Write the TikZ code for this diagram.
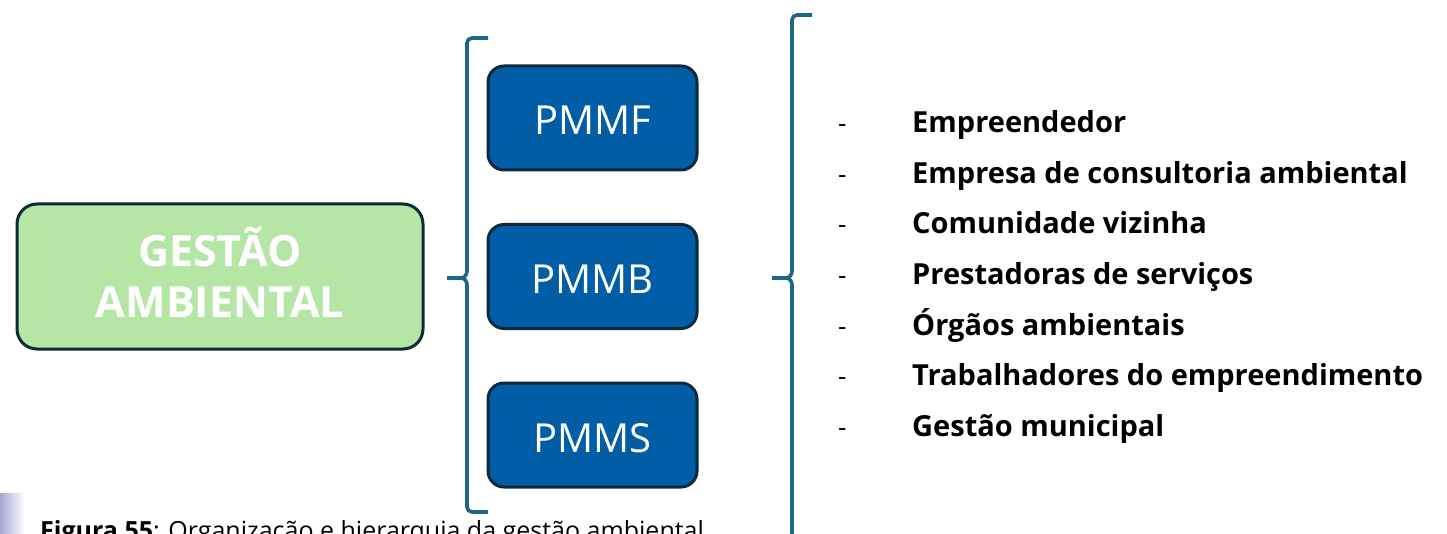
\documentclass[tikz,border=0pt]{standalone}
\usepackage{fontspec}
\setmainfont{Open Sans}
\definecolor{gfill}{HTML}{B5E6A6}
\definecolor{bfill}{HTML}{005DA6}
\definecolor{edgec}{HTML}{0D2A3C}
\definecolor{bracec}{HTML}{1D6688}
\tikzset{
  gbox/.style={draw=edgec, line width=3pt, fill=gfill, rounded corners=20pt, minimum width=406pt, minimum height=145pt, inner sep=0pt},
  bbox/.style={draw=edgec, line width=3pt, fill=bfill, rounded corners=16pt, minimum width=209pt, minimum height=104pt, inner sep=0pt},
  bracestyle/.style={draw=bracec, line width=3.6pt},
  btext/.style={text=white, font=\fontsize{40}{48}\selectfont, anchor=base, inner sep=0pt},
  gtext/.style={text=white, font=\bfseries\fontsize{43}{50}\selectfont, anchor=base, inner sep=0pt},
  itemtext/.style={font=\bfseries\fontsize{29}{34}\selectfont, anchor=base west, inner sep=0pt},
  dashtext/.style={font=\fontsize{26}{30}\selectfont, anchor=base west, inner sep=0pt},
}
\begin{document}
\begin{tikzpicture}[x=1pt,y=-1pt]
\useasboundingbox (0,0) rectangle (1447,534);
\clip (0,0) rectangle (1447,534);
\fill[white] (0,0) rectangle (1447,534);
% small side tab
\shade[left color={rgb,255:red,168;green,168;blue,210}, right color=white] (0,493) rectangle (25,534);
% green box
\node[gbox] (ga) at (220,276.5) {};
\node[gtext] (g1) at (220,267) {GESTÃO};
\node[gtext] (g2) at (220,318) {AMBIENTAL};
% left brace
\coordinate (lbt) at (488,38);
\coordinate (lbb) at (488,512);
\coordinate (lbtip) at (447,278);
\draw[bracestyle] (lbt) -- (472,38) to[out=180,in=90] (467,43) -- (467,271) to[out=-90,in=0] (461,278) -- (lbtip);
\draw[bracestyle] (461,278) to[out=0,in=90] (467,285) -- (467,507) to[out=-90,in=180] (472,512) -- (lbb);
% blue boxes
\node[bbox] (b1) at (592.5,118) {};
\node[bbox] (b2) at (592.5,276.5) {};
\node[bbox] (b3) at (592.5,435) {};
\node[btext] (t1) at (592.5,135) {PMMF};
\node[btext] (t2) at (592.5,293.5) {PMMB};
\node[btext] (t3) at (592.5,452) {PMMS};
% right brace
\coordinate (rbt) at (812,15);
\coordinate (rbtip) at (772,278);
\draw[bracestyle] (rbt) -- (797,15) to[out=180,in=90] (792,20) -- (792,271) to[out=-90,in=0] (786,278) -- (rbtip);
\draw[bracestyle] (786,278) to[out=0,in=90] (792,285) -- (792,540);
% list
\foreach \txt [count=\i] in {Empreendedor, Empresa de consultoria ambiental, Comunidade vizinha, Prestadoras de serviços, Órgãos ambientais, Trabalhadores do empreendimento, Gestão municipal}{
  \node[dashtext] (d\i) at (838,{133+50.5*(\i-1)}) {-};
  \node[itemtext] (l\i) at (912,{133+50.5*(\i-1)}) {\txt};
}
% caption
\node[anchor=base west, inner sep=0pt, font=\fontsize{25}{29}\selectfont] (cap) at (40,539) {\textbf{Figura 55}: Organização e hierarquia da gestão ambiental};
\end{tikzpicture}
\end{document}
